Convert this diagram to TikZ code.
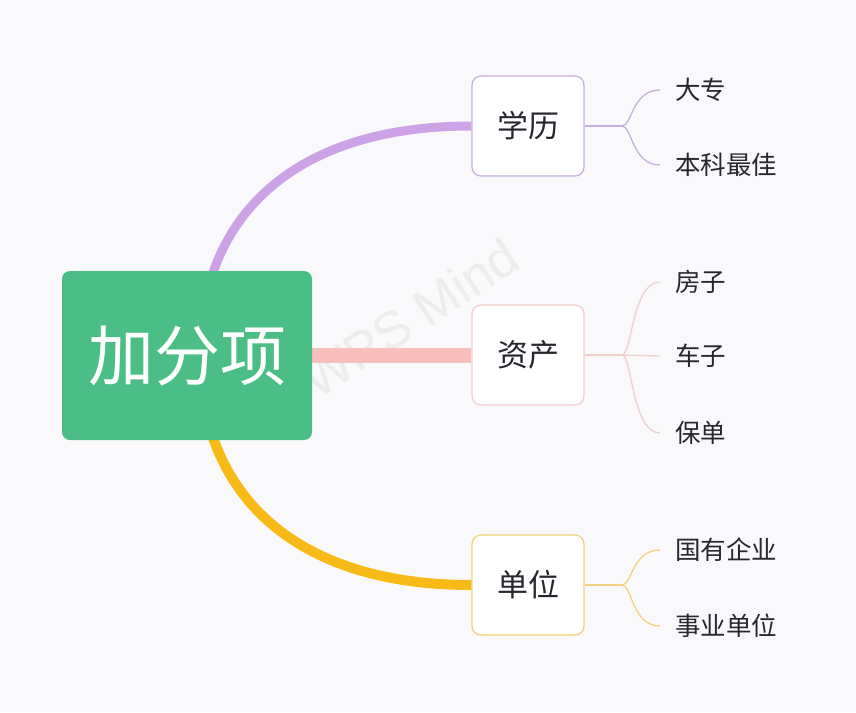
\documentclass[tikz,border=0pt]{standalone}
\usepackage{fontspec}
\newfontfamily\cjk{Noto Sans CJK SC}
\definecolor{bgc}{HTML}{F9F9FB}
\definecolor{rootc}{HTML}{4ABE84}
\definecolor{purc}{HTML}{CDA2E6}
\definecolor{pinkc}{HTML}{F7BEBB}
\definecolor{yelc}{HTML}{F8BA16}
\definecolor{purl}{HTML}{C8B0DA}
\definecolor{pinkl}{HTML}{F2CFCD}
\definecolor{yell}{HTML}{F2D27E}
\definecolor{txt}{HTML}{2A2630}
\tikzset{
  sub/.style={draw, fill=white, rounded corners=9pt, line width=1.3pt, minimum width=112pt, minimum height=100pt, inner sep=0pt, font=\cjk\fontsize{31}{31}\selectfont, text=txt},
  leaf/.style={anchor=west, inner sep=0pt, font=\cjk\fontsize{25.5}{25.5}\selectfont, text=txt},
  thin/.style={line width=1.3pt},
}
\begin{document}
\begin{tikzpicture}[x=1pt,y=-1pt]
\fill[bgc] (0,0) rectangle (856,712);
\useasboundingbox (0,0) rectangle (856,712);
% watermark
\node[rotate=33, text=black!7, font=\fontspec{Liberation Sans}\fontsize{52}{52}\selectfont] (wm) at (410,318) {WPS Mind};
% sub nodes
\node[sub, draw=purl] (xl) at (528,126) {学历};
\node[sub, draw=pinkl] (zc) at (528,355) {资产};
\node[sub, draw=yell] (dw) at (528,585) {单位};
% main connectors
\coordinate (rc) at (200,355);
\draw[purc, line width=9pt] (rc) .. controls (200,220) and (290,126) .. (xl.west);
\draw[yelc, line width=10pt] (rc) .. controls (200,490) and (290,585) .. (dw.west);
\draw[pinkc, line width=15pt] (rc) -- (zc.west);
% root
\node[fill=rootc, rounded corners=8pt, minimum width=250pt, minimum height=169pt, inner sep=0pt, text=white, font=\cjk\fontsize{66}{66}\selectfont] (root) at (187,355.5) {加分项};
% leaves
\node[leaf] (a1) at (675,90) {大专};
\node[leaf] (a2) at (675,165) {本科最佳};
\node[leaf] (b1) at (675,282) {房子};
\node[leaf] (b2) at (675,356) {车子};
\node[leaf] (b3) at (675,433) {保单};
\node[leaf] (c1) at (675,550) {国有企业};
\node[leaf] (c2) at (675,626) {事业单位};
% brackets
\coordinate (ja) at (622,126);
\coordinate (jb) at (622,355);
\coordinate (jc) at (622,585);
\draw[purl, thin] (xl.east) -- (ja);
\draw[purl, thin] (ja) .. controls (632,126) and (632,90) .. ([xshift=-15pt]a1.west);
\draw[purl, thin] (ja) .. controls (632,126) and (632,165) .. ([xshift=-15pt]a2.west);
\draw[pinkl, thin] (zc.east) -- (jb);
\draw[pinkl, thin] (jb) .. controls (632,355) and (632,282) .. ([xshift=-15pt]b1.west);
\draw[pinkl, thin] (jb) -- ([xshift=-15pt]b2.west);
\draw[pinkl, thin] (jb) .. controls (632,355) and (632,433) .. ([xshift=-15pt]b3.west);
\draw[yell, thin] (dw.east) -- (jc);
\draw[yell, thin] (jc) .. controls (632,585) and (632,550) .. ([xshift=-15pt]c1.west);
\draw[yell, thin] (jc) .. controls (632,585) and (632,626) .. ([xshift=-15pt]c2.west);
\end{tikzpicture}
\end{document}
